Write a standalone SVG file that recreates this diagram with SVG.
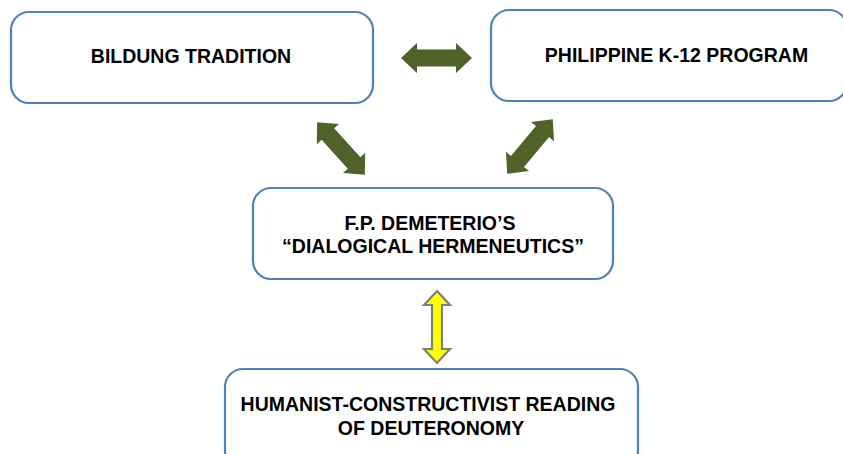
<svg xmlns="http://www.w3.org/2000/svg" xmlns:xlink="http://www.w3.org/1999/xlink" width="843" height="454" viewBox="0 0 843 454">
<style>
.box{fill:#ffffff;stroke:#4F81BD;stroke-width:2.2}
.lbl{font-family:"Liberation Sans",Arial,sans-serif;font-weight:bold;font-size:19.5px;fill:#000000;text-anchor:middle}
.green{fill:#4F6228}
.yellow{fill:#FFFF00;stroke:#7F7F7F;stroke-width:2.2;stroke-linejoin:miter}
</style>
<defs>
<path id="dbl" d="M-35.5,0 L-19.5,-15 L-19.5,-8.5 L19.5,-8.5 L19.5,-15 L35.5,0 L19.5,15 L19.5,8.5 L-19.5,8.5 L-19.5,15 Z"/>
</defs>
<rect width="843" height="454" fill="#ffffff"/>
<g id="connectors">
<use xlink:href="#dbl" class="green" transform="translate(436.5,58)"/>
<use xlink:href="#dbl" class="green" transform="translate(341,148.5) rotate(47.8)"/>
<use xlink:href="#dbl" class="green" transform="translate(530,146.5) rotate(-50.1)"/>
<path class="yellow" d="M437,291 L450,305 L442,305 L442,349 L450,349 L437,363 L424,349 L432,349 L432,305 L424,305 Z"/>
</g>
<g id="bildung">
<rect class="box" x="11" y="12" width="362" height="91" rx="18"/>
<text class="lbl" x="191" y="63">BILDUNG TRADITION</text>
</g>
<g id="k12">
<rect class="box" x="491" y="10" width="356" height="91" rx="18"/>
<text class="lbl" x="676.5" y="62">PHILIPPINE K-12 PROGRAM</text>
</g>
<g id="demeterio">
<rect class="box" x="253" y="188" width="360" height="91" rx="18"/>
<text class="lbl" x="430" y="230">F.P. DEMETERIO’S</text>
<text class="lbl" x="433" y="253">“DIALOGICAL HERMENEUTICS”</text>
</g>
<g id="humanist">
<rect class="box" x="225" y="369" width="413" height="100" rx="18"/>
<text class="lbl" x="428" y="411">HUMANIST-CONSTRUCTIVIST READING</text>
<text class="lbl" x="431" y="435">OF DEUTERONOMY</text>
</g>
</svg>
